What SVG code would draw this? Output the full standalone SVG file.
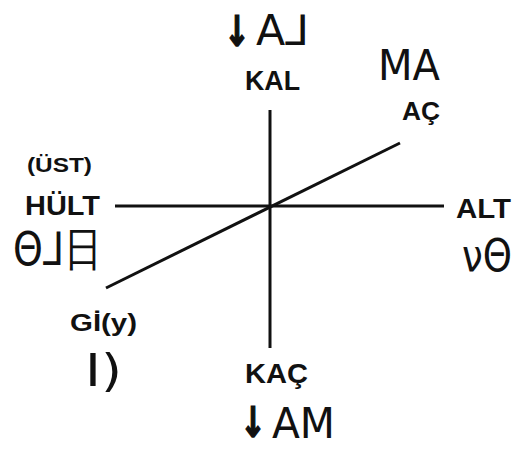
<svg xmlns="http://www.w3.org/2000/svg" width="520" height="449" viewBox="0 0 520 449">
<style>
.lbl{font-family:"Liberation Sans",Arial,sans-serif;font-weight:bold;fill:#111}
.gl{font-family:"DejaVu Sans","Noto Sans",sans-serif;fill:#111}
.ar{font-family:"DejaVu Sans","Noto Sans",sans-serif;font-weight:bold;fill:#111;stroke:#111;stroke-width:1.5}
.ln{stroke:#111;stroke-width:3;fill:none}
</style>
<rect width="520" height="449" fill="#fff"/>
<g id="connectors">
<line class="ln" x1="270" y1="110" x2="270" y2="348"/>
<line class="ln" x1="115" y1="206" x2="444" y2="206"/>
<line class="ln" x1="400" y1="143" x2="106" y2="288"/>
</g>
<g id="kal">
<text class="ar" x="224" y="46" font-size="42" textLength="26" lengthAdjust="spacingAndGlyphs">↓</text>
<text class="gl" x="256" y="45" font-size="42" textLength="53" lengthAdjust="spacingAndGlyphs">A⅃</text>
<text class="lbl" x="245" y="90" font-size="28" textLength="55" lengthAdjust="spacingAndGlyphs">KAL</text>
</g>
<g id="ac">
<text class="gl" x="378" y="80" font-size="42" textLength="62" lengthAdjust="spacingAndGlyphs">MA</text>
<text class="lbl" x="402" y="120" font-size="25" textLength="38" lengthAdjust="spacingAndGlyphs">AÇ</text>
</g>
<g id="hult">
<text class="lbl" x="27" y="172" font-size="20" textLength="65" lengthAdjust="spacingAndGlyphs">(ÜST)</text>
<text class="lbl" x="25" y="215" font-size="28" textLength="75" lengthAdjust="spacingAndGlyphs">HÜLT</text>
<text class="gl" x="13" y="265" font-size="46" textLength="89" lengthAdjust="spacingAndGlyphs">Θ⅃日</text>
</g>
<g id="alt">
<text class="lbl" x="456" y="218" font-size="28" textLength="55" lengthAdjust="spacingAndGlyphs">ALT</text>
<text class="gl" x="462" y="271" font-size="44" textLength="50" lengthAdjust="spacingAndGlyphs">νΘ</text>
</g>
<g id="gi">
<text class="lbl" x="70" y="331" font-size="24" textLength="67" lengthAdjust="spacingAndGlyphs">Gİ(y)</text>
<text class="gl" x="85" y="386" font-size="44" textLength="37" lengthAdjust="spacingAndGlyphs">I)</text>
</g>
<g id="kac">
<text class="lbl" x="245" y="383" font-size="28" textLength="63" lengthAdjust="spacingAndGlyphs">KAÇ</text>
<text class="ar" x="240" y="437" font-size="42" textLength="26" lengthAdjust="spacingAndGlyphs">↓</text>
<text class="gl" x="272" y="438" font-size="42" textLength="63" lengthAdjust="spacingAndGlyphs">AM</text>
</g>
</svg>
